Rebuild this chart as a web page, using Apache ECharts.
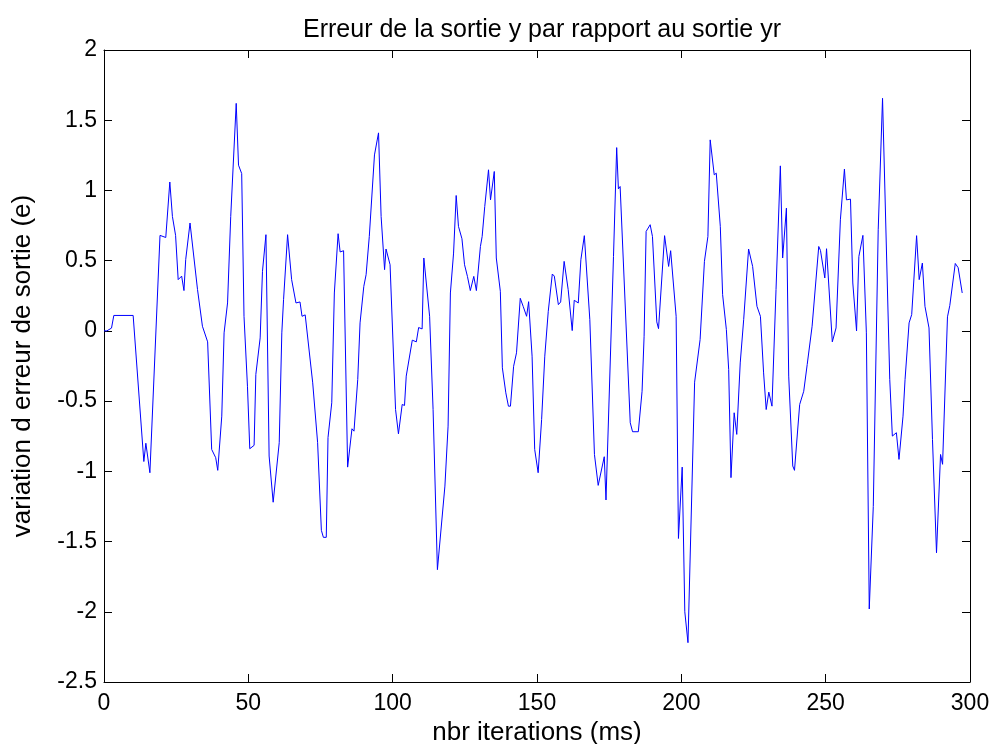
<!DOCTYPE html>
<html>
<head>
<meta charset="utf-8">
<title>Erreur de la sortie</title>
<script src="https://cdn.jsdelivr.net/npm/echarts@6/dist/echarts.min.js"></script>
<style>
  html, body { margin: 0; padding: 0; background: #fff; }
  #chart { width: 995px; height: 744px; }
</style>
</head>
<body>
<div id="chart"></div>
<script>
// Iteration index (ms) of each vertex of the error trace
const iterations = [
  0, 1, 2.6, 3.4, 10.1, 13.8, 14.5, 15.9, 19.4, 21.4, 22.8, 23.7, 24.8, 25.7, 26.9, 27.7, 28.3, 29.8, 30.4, 32.4,
  34.1, 35.9, 37.3, 38.7, 39.4, 40.8, 41.6, 42.8, 43.9, 45.8, 46.6, 47.7, 48.5, 49.7, 50.5, 52.0, 52.6, 54.1, 54.9, 56.1,
  57.2, 58.6, 60.7, 61.6, 62.2, 63.6, 65.0, 66.5, 67.9, 68.6, 69.7, 72.3, 74.0, 75.3, 76.0, 77.0, 77.6, 78.9, 79.8, 81.1,
  81.8, 83.0, 84.4, 85.9, 86.6, 87.9, 88.7, 90.0, 90.8, 91.9, 93.7, 95.1, 96.0, 97.2, 97.7, 99.1, 101.0, 102.0, 103.3, 104.1,
  104.7, 106.8, 108.2, 109.0, 110.2, 110.8, 112.8, 114.0, 115.5, 118.1, 119.2, 120.0, 121.1, 122.0, 122.8, 124.0, 124.9, 125.9, 126.9, 128.1,
  129.0, 130.4, 131.0, 131.9, 133.2, 133.9, 135.2, 135.9, 137.3, 138.0, 139.2, 140.1, 140.8, 141.9, 142.9, 144.2, 145.2, 146.4, 147.1, 148.3,
  149.2, 150.4, 151.6, 152.7, 153.9, 155.3, 156.0, 157.4, 158.2, 159.4, 160.8, 162.2, 162.9, 164.3, 165.2, 166.4, 168.3, 169.9, 171.2, 171.8,
  173.3, 173.9, 176.5, 177.6, 178.2, 178.8, 182.3, 183.1, 185.1, 186.4, 187.1, 187.8, 189.2, 190.0, 191.5, 192.1, 194.2, 195.6, 196.3, 198.2,
  199.0, 200.3, 201.2, 202.3, 204.6, 205.1, 206.5, 208.0, 209.2, 210.0, 211.4, 212.1, 213.5, 214.3, 215.6, 216.4, 217.2, 218.3, 219.2, 220.4,
  221.6, 223.3, 224.7, 226.2, 227.4, 228.5, 229.4, 230.3, 231.4, 232.8, 234.3, 235.1, 236.4, 237.2, 238.6, 239.2, 241.0, 242.4, 243.6, 245.3,
  247.6, 248.2, 249.7, 250.3, 252.3, 253.6, 255.1, 256.5, 257.2, 258.6, 259.4, 260.7, 261.5, 262.9, 264.1, 265.1, 266.5, 268.2, 269.7, 272.2,
  273.1, 274.5, 275.4, 276.8, 277.5, 278.9, 279.8, 281.5, 282.4, 283.5, 284.4, 285.8, 287.0, 288.4, 289.8, 290.5, 292.2, 293.0, 294.9, 295.9,
  297.3
];

// Output error e = y - yr at each vertex
const erreur = [
  0, 0, 0.02, 0.11, 0.11, -0.93, -0.80, -1.01, 0.68, 0.665, 1.06, 0.815, 0.68, 0.365, 0.39, 0.287, 0.507, 0.768, 0.756, 0.294,
  0.033, -0.078, -0.844, -0.903, -0.993, -0.607, -0.014, 0.199, 0.815, 1.62, 1.18, 1.12, 0.104, -0.394, -0.839, -0.815, -0.31, -0.05, 0.424, 0.685,
  -0.891, -1.22, -0.796, -0.014, 0.222, 0.685, 0.365, 0.199, 0.206, 0.104, 0.114, -0.37, -0.796, -1.42, -1.47, -1.47, -0.76, -0.512, 0.27, 0.692,
  0.562, 0.571, -0.97, -0.697, -0.714, -0.346, 0.057, 0.317, 0.40, 0.672, 1.253, 1.41, 0.815, 0.436, 0.583, 0.471, -0.56, -0.733, -0.524, -0.531,
  -0.322, -0.066, -0.078, 0.024, 0.014, 0.519, 0.104, -0.56, -1.70, -1.105, -0.678, 0.27, 0.554, 0.964, 0.744, 0.656, 0.471, 0.388, 0.287, 0.388,
  0.287, 0.601, 0.672, 0.886, 1.147, 0.933, 1.135, 0.519, 0.282, -0.263, -0.441, -0.536, -0.536, -0.252, -0.156, 0.232, 0.175, 0.104, 0.208, -0.18,
  -0.844, -1.01, -0.631, -0.18, 0.139, 0.405, 0.39, 0.187, 0.206, 0.495, 0.294, 0.002, 0.218, 0.199, 0.507, 0.678, 0.08, -0.88, -1.10, -1.093,
  -0.896, -1.204, 0.53, 1.305, 1.011, 1.028, -0.654, -0.718, -0.718, -0.43, -0.038, 0.708, 0.756, 0.672, 0.064, 0.016, 0.678, 0.459, 0.571, 0.104,
  -1.478, -0.97, -2.0, -2.22, -0.365, -0.351, -0.062, 0.495, 0.672, 1.36, 1.111, 1.123, 0.744, 0.258, 0.009, -0.275, -1.045, -0.583, -0.737, -0.228,
  0.08, 0.583, 0.459, 0.175, 0.104, -0.299, -0.56, -0.436, -0.536, 0.294, 1.175, 0.519, 0.874, -0.322, -0.962, -0.993, -0.524, -0.43, -0.24, 0.033,
  0.601, 0.573, 0.377, 0.585, -0.078, 0.021, 0.791, 1.152, 0.933, 0.938, 0.341, 0.0, 0.53, 0.68, -0.014, -1.98, -1.25, 0.72, 1.656, -0.346,
  -0.749, -0.725, -0.915, -0.607, -0.346, 0.057, 0.116, 0.678, 0.365, 0.483, 0.175, 0.021, -0.773, -1.58, -0.88, -0.95, 0.1, 0.18, 0.48, 0.45,
  0.27
];

// Axis ranges and tick steps
const xRange = [0, 300];
const xStep = 50;
const yRange = [-2.5, 2];
const yStep = 0.5;

const titleText = 'Erreur de la sortie y par rapport au sortie yr';
const xName = 'nbr iterations (ms)';
const yName = 'variation d erreur de sortie (e)';

const FONT = '"Liberation Sans", Arial, sans-serif';
const GRID = { left: 104, top: 50, width: 866, height: 632, outerBoundsMode: 'none', containLabel: false };
const TICK_FONT = 23;
const LABEL_FONT = 26;

const points = iterations.map((x, i) => [x, erreur[i]]);

const lineStyle = { color: '#000', width: 1 };
const tickStyle = { show: true, inside: true, length: 8, lineStyle: { color: '#000', width: 1 } };
const labelStyle = { color: '#000', fontSize: TICK_FONT, fontFamily: FONT };
const nameStyle = { color: '#000', fontSize: LABEL_FONT, fontFamily: FONT };

const chart = echarts.init(document.getElementById('chart'), null, { renderer: 'canvas' });

chart.setOption({
  animation: false,
  backgroundColor: '#fff',
  title: {
    text: titleText,
    left: GRID.left + GRID.width / 2,
    textAlign: 'center',
    top: 13,
    textStyle: { color: '#000', fontSize: LABEL_FONT - 1, fontWeight: 'normal', fontFamily: FONT }
  },
  grid: GRID,
  xAxis: [
    {
      type: 'value', min: xRange[0], max: xRange[1], interval: xStep, position: 'bottom',
      axisLine: { show: true, onZero: false, lineStyle },
      axisTick: tickStyle,
      axisLabel: Object.assign({ margin: 10 }, labelStyle),
      splitLine: { show: false },
      name: xName, nameLocation: 'middle', nameGap: 36,
      nameTextStyle: nameStyle
    },
    {
      type: 'value', min: xRange[0], max: xRange[1], interval: xStep, position: 'top',
      axisLine: { show: true, onZero: false, lineStyle },
      axisTick: tickStyle,
      axisLabel: { show: false },
      splitLine: { show: false }
    }
  ],
  yAxis: [
    {
      type: 'value', min: yRange[0], max: yRange[1], interval: yStep, position: 'left',
      axisLine: { show: true, onZero: false, lineStyle },
      axisTick: tickStyle,
      axisLabel: Object.assign({ margin: 7 }, labelStyle),
      splitLine: { show: false },
      name: yName, nameLocation: 'middle', nameGap: 68, nameRotate: 90,
      nameTextStyle: nameStyle
    },
    {
      type: 'value', min: yRange[0], max: yRange[1], interval: yStep, position: 'right',
      axisLine: { show: true, onZero: false, lineStyle },
      axisTick: tickStyle,
      axisLabel: { show: false },
      splitLine: { show: false }
    }
  ],
  series: [
    {
      type: 'line',
      data: points,
      xAxisIndex: 0,
      yAxisIndex: 0,
      showSymbol: false,
      symbol: 'none',
      lineStyle: { color: '#0000ff', width: 1 },
      z: 3
    }
  ]
});
</script>
</body>
</html>
